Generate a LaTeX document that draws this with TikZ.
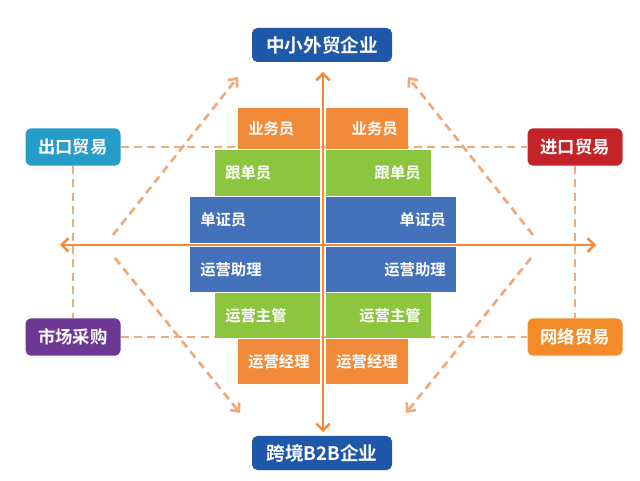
\documentclass[tikz,border=0pt]{standalone}
\usepackage{fontspec}
\newfontfamily\cjk{Noto Sans CJK SC}[BoldFont={Noto Sans CJK SC Bold}]
\usetikzlibrary{arrows.meta}
\definecolor{ora}{RGB}{241,139,58}
\definecolor{gre}{RGB}{140,198,63}
\definecolor{blu}{RGB}{68,114,186}
\definecolor{dblu}{RGB}{31,88,168}
\definecolor{teal}{RGB}{38,156,200}
\definecolor{redc}{RGB}{196,36,40}
\definecolor{pur}{RGB}{108,56,148}
\definecolor{orb}{RGB}{243,140,40}
\definecolor{lora}{RGB}{238,170,120}
\begin{document}
\begin{tikzpicture}[x=0.75pt,y=-0.75pt,
  box/.style={rounded corners=4pt,text=white,font=\cjk\bfseries\fontsize{13}{15}\selectfont,minimum width=71.25pt,minimum height=28pt,inner sep=0pt},
  big/.style={box,minimum width=105pt,minimum height=25.5pt,font=\cjk\bfseries\fontsize{14}{16}\selectfont},
  bar/.style={text=white,font=\cjk\bfseries\fontsize{11.5}{13}\selectfont,inner sep=0pt,minimum height=33.5pt,draw=none},
  dline/.style={draw=lora,line width=2pt,dash pattern=on 6pt off 4pt},
  dasharr/.style={dline,-{Straight Barb[length=5pt,width=9pt]}},
  axis/.style={draw=ora,line width=1.8pt,{Straight Barb[length=5pt,width=10pt]}-{Straight Barb[length=5pt,width=10pt]}}]
\useasboundingbox (0,0) rectangle (640,481);
\fill[white] (0,0) rectangle (640,481);
\def\bars#1#2#3#4#5#6{%
 \fill[#5] (#1,#3) rectangle (320,#4);
 \node[bar,anchor=west] (L#6) at (#1+10,{(#3+#4)/2}) {#2};
 \fill[#5] (326,#3) rectangle ({646-#1},#4);
 \node[bar,anchor=east] (R#6) at ({636-#1},{(#3+#4)/2}) {#2};}
\node[box,fill=teal] (ck) at (73,147) {出口贸易};
\node[box,fill=redc] (jk) at (575,147) {进口贸易};
\node[box,fill=pur] (sc) at (73,337) {市场采购};
\node[box,fill=orb] (wl) at (575,337) {网络贸易};
\draw[dline] (ck) -- (jk);
\draw[dline] (sc) -- (wl);
\draw[dline] (ck) -- (sc);
\draw[dline] (jk) -- (wl);
\coordinate (d1a) at (113,235); \coordinate (d1b) at (238,77);
\coordinate (d2a) at (115,258); \coordinate (d2b) at (240,413);
\coordinate (d3a) at (533,235); \coordinate (d3b) at (408,77);
\coordinate (d4a) at (531,258); \coordinate (d4b) at (406,413);
\draw[dasharr] (d1a) -- (d1b);
\draw[dasharr] (d2a) -- (d2b);
\draw[dasharr] (d3a) -- (d3b);
\draw[dasharr] (d4a) -- (d4b);
\bars{238}{业务员}{108}{149}{ora}{1}
\bars{215}{跟单员}{150}{196}{gre}{2}
\bars{190}{单证员}{197}{243}{blu}{3}
\bars{190}{运营助理}{247}{292}{blu}{4}
\bars{215}{运营主管}{293}{338}{gre}{5}
\bars{238}{运营经理}{339}{384}{ora}{6}
\node[big,fill=dblu] (top) at (322,45) {中小外贸企业};
\node[big,fill=dblu] (bot) at (322,453) {跨境B2B企业};
\coordinate (ax1) at (60,245); \coordinate (ax2) at (596,245);
\coordinate (ay1) at (323,72); \coordinate (ay2) at (323,432);
\draw[axis] (ax1) -- (ax2);
\draw[axis] (ay1) -- (ay2);
\end{tikzpicture}
\end{document}
